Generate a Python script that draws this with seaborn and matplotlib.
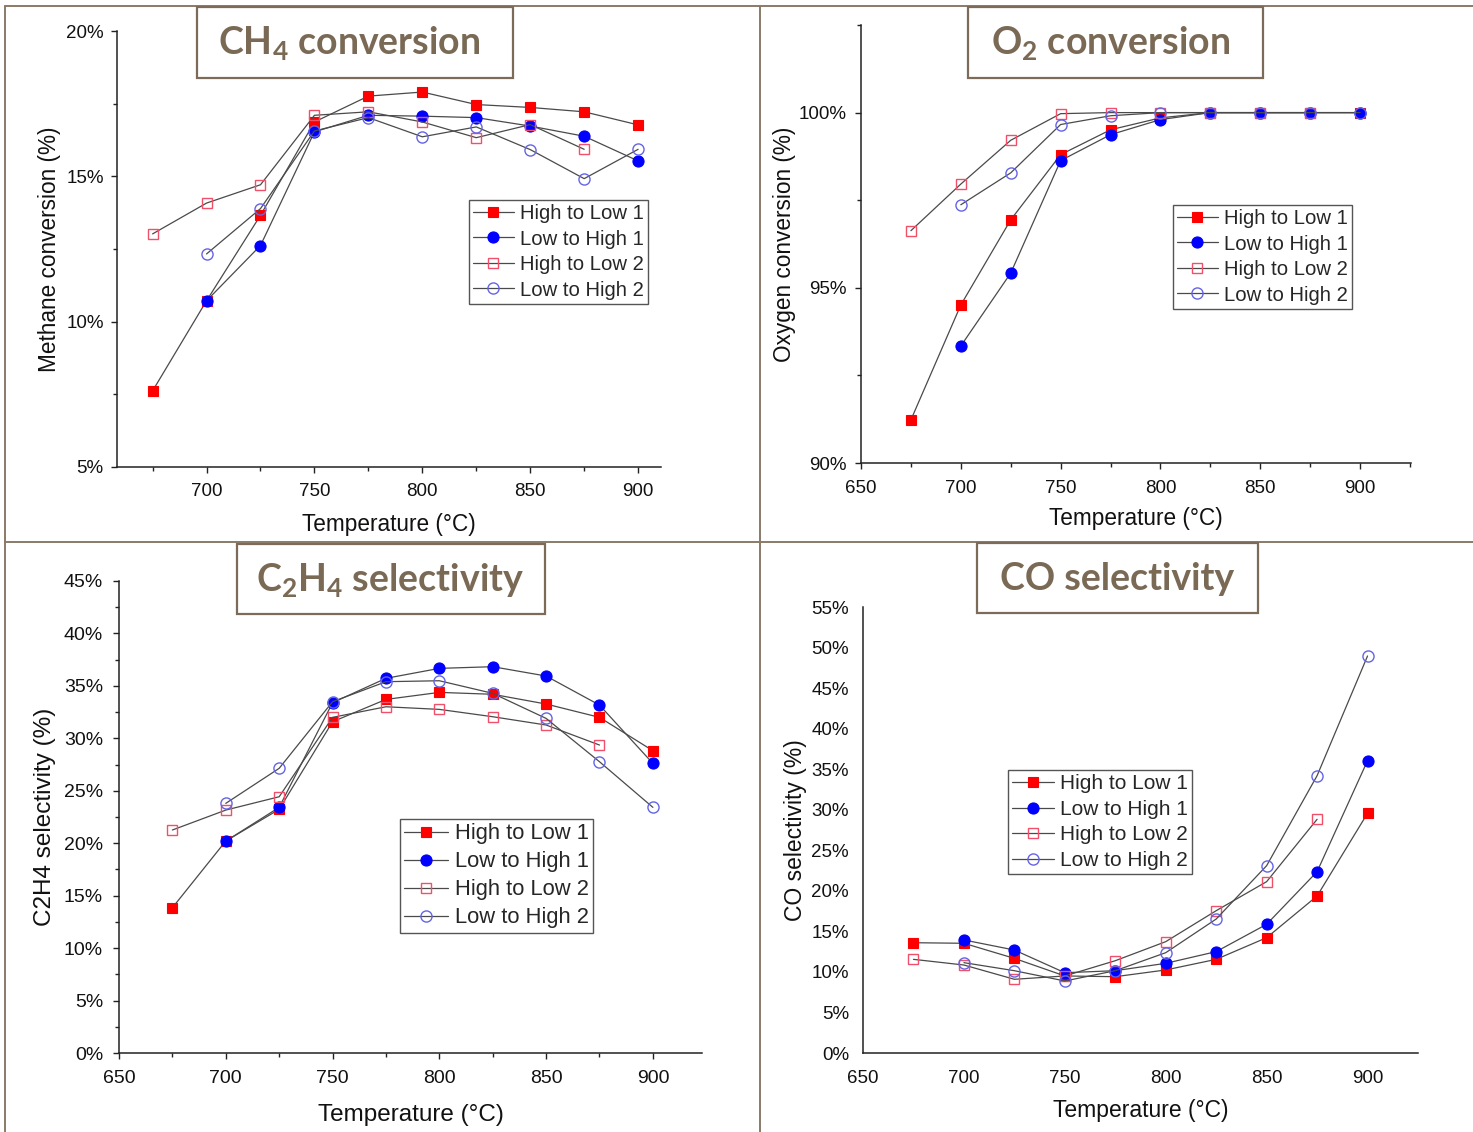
import numpy as np
import pandas as pd
import matplotlib
matplotlib.use("Agg")
import matplotlib.pyplot as plt
import seaborn as sns
from matplotlib.lines import Line2D
from matplotlib.patches import Rectangle
from matplotlib.ticker import MultipleLocator, FuncFormatter

sns.set_theme(style="ticks")
plt.rcParams['font.family'] = ['Liberation Sans', 'DejaVu Sans']
plt.rcParams['mathtext.fontset'] = 'custom'
plt.rcParams['mathtext.rm'] = 'Lato:bold'
plt.rcParams['mathtext.it'] = 'Lato:bold'
plt.rcParams['mathtext.bf'] = 'Lato:bold'

NaN = np.nan
temps = [675, 700, 725, 750, 775, 800, 825, 850, 875, 900]
series_names = ["High to Low 1", "Low to High 1", "High to Low 2", "Low to High 2"]

# CH4 conversion (%)
ch4_h2l1 = [7.62, 10.72, 13.66, 16.87, 17.76, 17.90, 17.47, 17.37, 17.22, 16.77]
ch4_l2h1 = [NaN, 10.72, 12.62, 16.53, 17.10, 17.07, 17.02, 16.73, 16.38, 15.53]
ch4_h2l2 = [13.02, 14.08, 14.71, 17.10, 17.22, 16.87, 16.33, 16.78, 15.93, NaN]
ch4_l2h2 = [NaN, 12.33, 13.89, 16.56, 17.02, 16.36, 16.70, 15.92, 14.92, 15.93]

# O2 conversion (%)
o2_h2l1 = [91.23, 94.51, 96.94, 98.80, 99.51, 99.85, 100.0, 100.0, 100.0, 100.0]
o2_l2h1 = [NaN, 93.34, 95.42, 98.63, 99.37, 99.80, 100.0, 100.0, 100.0, 100.0]
o2_h2l2 = [96.63, 97.96, 99.21, 99.97, 100.0, 100.0, 100.0, 100.0, 100.0, NaN]
o2_l2h2 = [NaN, 97.37, 98.28, 99.66, 99.91, 100.0, 100.0, 100.0, 100.0, 100.0]

# C2H4 selectivity (%)
c2_h2l1 = [13.85, 20.21, 23.23, 31.58, 33.71, 34.38, 34.20, 33.27, 32.00, 28.82]
c2_l2h1 = [NaN, 20.20, 23.42, 33.40, 35.72, 36.67, 36.83, 35.94, 33.17, 27.61]
c2_h2l2 = [21.26, 23.16, 24.43, 32.00, 33.01, 32.76, 32.06, 31.27, 29.36, NaN]
c2_l2h2 = [NaN, 23.80, 27.14, 33.49, 35.40, 35.49, 34.29, 31.90, 27.77, 23.42]

# CO selectivity (%)
co_h2l1 = [13.60, 13.53, 11.67, 9.50, 9.41, 10.24, 11.55, 14.22, 19.36, 29.56]
co_l2h1 = [NaN, 13.94, 12.70, 9.90, 10.15, 11.06, 12.50, 15.87, 22.36, 36.05]
co_h2l2 = [11.55, 10.85, 9.09, 9.50, 11.38, 13.73, 17.55, 21.13, 28.82, NaN]
co_l2h2 = [NaN, 11.14, 10.15, 8.88, 10.15, 12.37, 16.52, 23.10, 34.20, 48.96]

W, H = 1473, 1132
fig = plt.figure(figsize=(W / 100, H / 100), dpi=100)
fig.patch.set_facecolor("white")

LINE_C = "#4a4a4a"
RED = "#ff0000"
BLUE = "#0000ff"
PINK = "#f0506a"
LBLUE = "#6464e6"
styles = [
    dict(marker="s", markersize=7.0, markerfacecolor=RED, markeredgecolor=RED, markeredgewidth=0.8),
    dict(marker="o", markersize=8.0, markerfacecolor=BLUE, markeredgecolor=BLUE, markeredgewidth=0.8),
    dict(marker="s", markersize=7.5, markerfacecolor="none", markeredgecolor=PINK, markeredgewidth=1.0),
    dict(marker="o", markersize=8.0, markerfacecolor="none", markeredgecolor=LBLUE, markeredgewidth=1.0),
]


def make_ax(l, t, r, b):
    return fig.add_axes([l / W, 1 - b / H, (r - l) / W, (b - t) / H])


def pct(v, pos):
    return f"{v:g}%"


panels = [
    dict(box=(117, 31, 661, 467), data=[ch4_h2l1, ch4_l2h1, ch4_h2l2, ch4_l2h2],
         xlim=(658.5, 910.6), ylim=(5, 20), ymaj=5, ymin=2.5, xmaj=50, xmin=25,
         ylabel="Methane conversion (%)", ylabx=50, xlaby=524, ticks=True, ypad=5, xpad=7,
         fs_tick=13.5, fs_lab=16.3, leg=(469, 200), fs_leg=14.6,
         title="CH$_4$ conversion", tbox=(197, 7, 513, 78), tx=349),
    dict(box=(861, 25, 1411, 463), data=[o2_h2l1, o2_l2h1, o2_h2l2, o2_l2h2],
         xlim=(650, 925.5), ylim=(90, 102.5), ymaj=5, ymin=2.5, xmaj=50, xmin=25,
         ylabel="Oxygen conversion (%)", ylabx=785, xlaby=519, ticks=True, ypad=6, xpad=8,
         fs_tick=13.5, fs_lab=16.3, leg=(1173, 205), fs_leg=14.6,
         title="O$_2$ conversion", tbox=(968, 7, 1263, 78), tx=1111),
    dict(box=(119, 581, 702, 1053), data=[c2_h2l1, c2_l2h1, c2_h2l2, c2_l2h2],
         xlim=(650, 923), ylim=(0, 45), ymaj=5, ymin=2.5, xmaj=50, xmin=25,
         ylabel="C2H4 selectivity (%)", ylabx=45, xlaby=1115, ticks=True, ypad=7, xpad=8,
         fs_tick=14, fs_lab=17.5, leg=(400, 819), fs_leg=15.8,
         title="C$_2$H$_4$ selectivity", tbox=(237, 544, 545, 614), tx=390),
    dict(box=(863, 607, 1418, 1053), data=[co_h2l1, co_l2h1, co_h2l2, co_l2h2],
         xlim=(650, 925), ylim=(0, 55), ymaj=5, ymin=None, xmaj=50, xmin=None,
         ylabel="CO selectivity (%)", ylabx=795, xlaby=1111, ticks=False, ypad=10, xpad=12,
         fs_tick=13.5, fs_lab=16.5, leg=(1008, 770), fs_leg=15,
         title="CO selectivity", tbox=(977, 543, 1258, 613), tx=1117),
]

for p in panels:
    l, t, r, b = p["box"]
    ax = make_ax(l, t, r, b)
    ax.set_facecolor("white")
    for name, vals, st in zip(series_names, p["data"], styles):
        df = pd.DataFrame({"T": temps, "v": vals}).dropna()
        sns.lineplot(data=df, x="T", y="v", ax=ax, color=LINE_C, lw=0.9,
                     sort=False, legend=False, **st)
    ax.set_xlim(*p["xlim"])
    ax.set_ylim(*p["ylim"])
    ax.xaxis.set_major_locator(MultipleLocator(p["xmaj"]))
    ax.yaxis.set_major_locator(MultipleLocator(p["ymaj"]))
    if p["xmin"]:
        ax.xaxis.set_minor_locator(MultipleLocator(p["xmin"]))
    if p["ymin"]:
        ax.yaxis.set_minor_locator(MultipleLocator(p["ymin"]))
    ax.yaxis.set_major_formatter(FuncFormatter(pct))
    for s in ["top", "right"]:
        ax.spines[s].set_visible(False)
    for s in ["left", "bottom"]:
        ax.spines[s].set_linewidth(1.1)
        ax.spines[s].set_color("#222222")
    if p["ticks"]:
        ax.tick_params(which="major", length=4.5, width=1.0, color="#222222", direction="out")
        ax.tick_params(which="minor", length=3, width=1.0, color="#222222", direction="out")
    else:
        ax.tick_params(which="both", length=0)
    ax.tick_params(axis="y", which="major", pad=p["ypad"], labelsize=p["fs_tick"], labelcolor="#111111")
    ax.tick_params(axis="x", which="major", pad=p["xpad"], labelsize=p["fs_tick"], labelcolor="#111111")
    ax.set_xlabel("Temperature (°C)", fontsize=p["fs_lab"], color="#111111")
    ax.set_ylabel(p["ylabel"], fontsize=p["fs_lab"], color="#111111")
    ax.xaxis.label.set_verticalalignment("center")
    ax.yaxis.label.set_verticalalignment("center")
    ax.xaxis.set_label_coords(0.5, (b - p["xlaby"]) / (b - t))
    ax.yaxis.set_label_coords((p["ylabx"] - l) / (r - l), 0.5)

    handles = [Line2D([0], [0], color=LINE_C, lw=0.9, **st) for st in styles]
    lx, ly = p["leg"]
    leg = ax.legend(handles, series_names, loc="upper left",
                    bbox_to_anchor=(lx / W, 1 - ly / H), bbox_transform=fig.transFigure,
                    borderaxespad=0, fontsize=p["fs_leg"], frameon=True, fancybox=False,
                    edgecolor="#555555", framealpha=1, handlelength=2.0, handletextpad=0.3,
                    borderpad=0.2, labelspacing=0.32)
    leg.get_frame().set_linewidth(1.0)

    x0, y0, x1, y1 = p["tbox"]
    fig.patches.append(Rectangle((x0 / W, 1 - y1 / H), (x1 - x0) / W, (y1 - y0) / H,
                                 transform=fig.transFigure, fill=True, facecolor="white",
                                 edgecolor="#7b6b58", lw=1.6, zorder=5))
    fig.text(p["tx"] / W, 1 - ((y0 + y1) / 2 + 1) / H, p["title"], ha="center", va="center",
             fontsize=27, fontweight="bold", family="Lato", color="#7a6a55", zorder=6)

# panel borders
BC = "#8a7b68"
fig.add_artist(Line2D([5 / W, 5 / W], [0, 1 - 6 / H], color=BC, lw=1.4, transform=fig.transFigure))
fig.add_artist(Line2D([5 / W, 1], [1 - 6 / H, 1 - 6 / H], color=BC, lw=1.4, transform=fig.transFigure))
fig.add_artist(Line2D([760 / W, 760 / W], [0, 1 - 6 / H], color=BC, lw=1.4, transform=fig.transFigure))
fig.add_artist(Line2D([5 / W, 1], [1 - 542 / H, 1 - 542 / H], color=BC, lw=1.4, transform=fig.transFigure))

fig.savefig("out.png", dpi=100, facecolor="white")
